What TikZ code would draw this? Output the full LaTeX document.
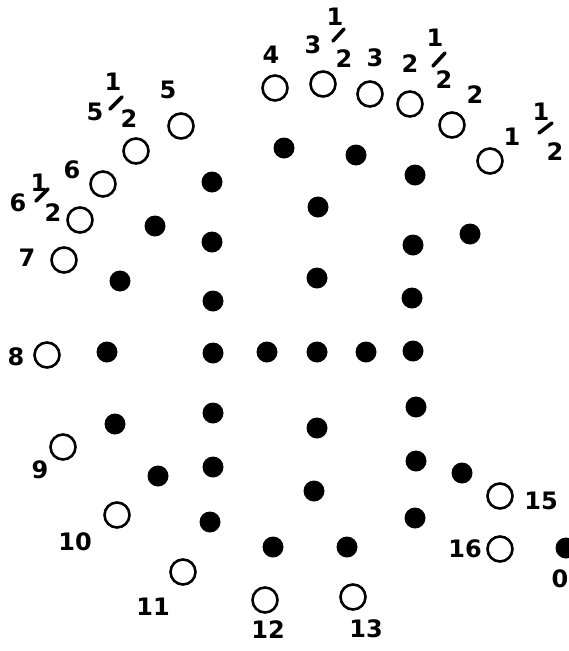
\documentclass[tikz,border=0pt]{standalone}
\usepackage{fontspec}
\setmainfont{DejaVu Sans}
\begin{document}
\begin{tikzpicture}[x=1pt,y=-1pt,
  open/.style={circle,draw,line width=2.6pt,minimum size=25pt,inner sep=0pt},
  dot/.style={circle,fill,minimum size=21pt,inner sep=0pt},
  lab/.style={font=\bfseries\fontsize{24}{24}\selectfont,inner sep=0pt},
  slash/.style={line width=3.6pt,line cap=round}]
\useasboundingbox (0,0) rectangle (569,651);
% open circles
\node[open] (c4) at (275,88) {};
\node[open] (c5) at (181,126) {};
\node[open] (c55) at (136,151) {};
\node[open] (c6) at (103,184) {};
\node[open] (c65) at (80,220) {};
\node[open] (c7) at (64,260) {};
\node[open] (c8) at (47,355) {};
\node[open] (c9) at (63,447) {};
\node[open] (c10) at (117,515) {};
\node[open] (c11) at (183,572) {};
\node[open] (c12) at (265,600) {};
\node[open] (c13) at (353,597) {};
\node[open] (c15) at (500,496) {};
\node[open] (c16) at (500,549) {};
\node[open] (c35) at (323,84) {};
\node[open] (c3) at (370,94) {};
\node[open] (c25) at (410,104) {};
\node[open] (c2) at (452,125) {};
\node[open] (c15h) at (490,161) {};
% labels
\node[lab] (l4) at (271,55) {4};
\node[lab] (l5) at (168,90) {5};
\node[lab] (l55a) at (95,112) {5};
\node[lab] (l55b) at (113,82) {1};
\node[lab] (l55c) at (129,119) {2};
\draw[slash] (110,109) -- (122,97);
\node[lab] (l6) at (72,170) {6};
\node[lab] (l65a) at (18,203) {6};
\node[lab] (l65b) at (39,183) {1};
\node[lab] (l65c) at (53,213) {2};
\draw[slash] (36,201) -- (48,189);
\node[lab] (l7) at (27,258) {7};
\node[lab] (l8) at (16,357) {8};
\node[lab] (l9) at (40,470) {9};
\node[lab] (l10) at (75,542) {10};
\node[lab] (l11) at (153,607) {11};
\node[lab] (l12) at (268,630) {12};
\node[lab] (l13) at (366,629) {13};
\node[lab] (l15) at (541,501) {15};
\node[lab] (l16) at (465,549) {16};
\node[lab] (l0) at (560,579) {0};
\node[lab] (l35a) at (313,45) {3};
\node[lab] (l35b) at (335,17) {1};
\node[lab] (l35c) at (344,59) {2};
\draw[slash] (333,41) -- (344,29);
\node[lab] (l3) at (375,58) {3};
\node[lab] (l25a) at (410,64) {2};
\node[lab] (l25b) at (435,38) {1};
\node[lab] (l25c) at (444,80) {2};
\draw[slash] (433,66) -- (445,53);
\node[lab] (l2) at (475,95) {2};
\node[lab] (l15a) at (512,137) {1};
\node[lab] (l15b) at (541,112) {1};
\node[lab] (l15c) at (555,152) {2};
\draw[slash] (539,133) -- (552,123);
% filled dots
\foreach \x/\y [count=\i] in {284/148,356/155,415/175,212/182,318/207,155/226,212/242,
  413/245,470/234,120/281,317/278,213/301,412/298,107/352,213/353,267/352,317/352,
  366/352,413/351,115/424,213/413,416/407,317/428,158/476,213/467,416/461,462/473,
  314/491,210/522,415/518,273/547,347/547,566/548}
  \node[dot] (d\i) at (\x,\y) {};
\end{tikzpicture}
\end{document}
